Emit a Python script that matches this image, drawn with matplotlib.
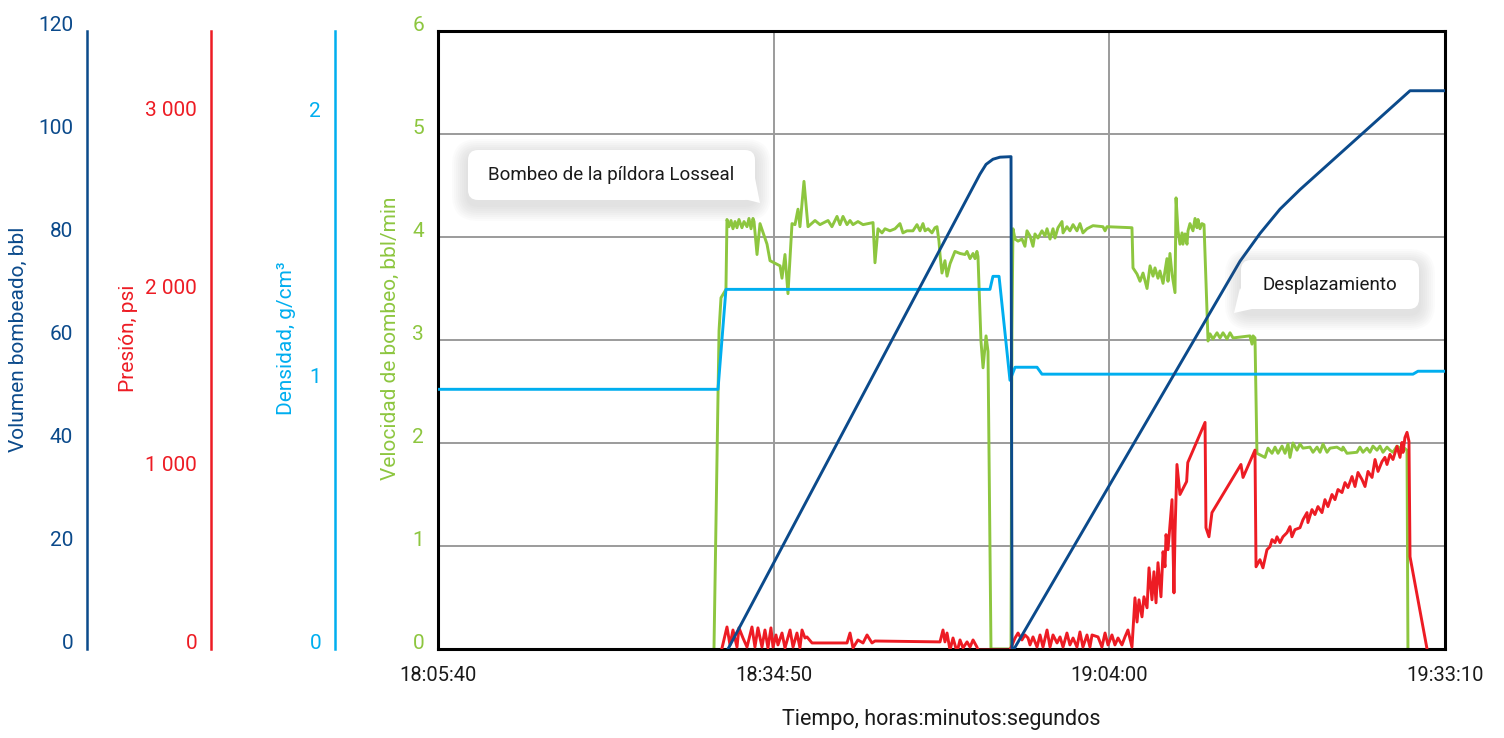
import matplotlib
matplotlib.use("Agg")
import matplotlib.pyplot as plt
from matplotlib.patches import FancyBboxPatch, Polygon

plt.rcParams["font.family"] = ["Liberation Sans Narrow", "Roboto", "DejaVu Sans"]

# time in minutes after 18:05:40
time_ticks = [0, 1750 / 60, 3500 / 60, 5250 / 60]
time_labels = ["18:05:40", "18:34:50", "19:04:00", "19:33:10"]

# pump rate, bbl/min
rate = [
    (23.98, 0.00), (24.42, 3.09), (24.59, 3.41), (25.02, 3.49), (25.11, 4.17),
    (25.28, 4.10), (25.46, 4.16), (25.63, 4.08), (25.81, 4.15), (25.98, 4.09), (26.15, 4.17),
    (26.41, 4.09), (26.59, 4.15), (26.85, 4.10), (27.02, 4.18), (27.20, 4.08), (27.37, 4.18),
    (27.46, 4.15), (27.72, 3.83), (27.98, 4.13), (28.59, 3.93), (28.85, 3.77), (29.72, 3.72),
    (29.89, 3.60), (30.15, 3.83), (30.41, 3.45), (30.76, 4.13), (31.02, 4.12), (31.28, 4.27),
    (31.45, 4.10), (31.80, 4.54), (32.15, 4.10), (32.76, 4.16), (33.19, 4.12), (33.89, 4.16),
    (34.23, 4.10), (34.67, 4.20), (34.93, 4.12), (35.19, 4.20), (35.54, 4.12), (35.80, 4.16),
    (36.06, 4.12), (36.49, 4.15), (36.93, 4.12), (37.36, 4.13), (37.80, 4.14), (37.97, 3.75),
    (38.23, 4.08), (38.58, 4.04), (38.84, 4.08), (39.27, 4.06), (39.71, 4.08), (40.14, 4.13),
    (40.40, 4.04), (40.75, 4.06), (41.27, 4.06), (41.62, 4.12), (41.88, 4.06), (42.14, 4.13),
    (42.32, 4.06), (42.58, 4.08), (42.92, 4.04), (43.18, 4.09), (43.36, 4.10), (43.53, 3.96),
    (43.62, 3.83), (43.79, 3.65), (44.05, 3.77), (44.23, 3.62), (44.49, 3.74), (44.92, 3.86),
    (45.36, 3.84), (45.79, 3.83), (45.97, 3.86), (46.23, 3.79), (46.49, 3.84), (46.66, 3.79),
    (46.83, 3.86), (46.92, 3.81), (47.18, 2.99), (47.36, 2.73), (47.62, 3.04), (47.79, 2.89),
    (48.05, 0.00), (49.79, 0.00), (49.87, 3.09), (49.96, 4.08), (50.14, 3.98), (50.40, 3.96),
    (50.74, 3.98), (51.00, 3.91), (51.18, 4.06), (51.44, 4.01), (51.70, 3.91), (51.87, 4.03),
    (52.13, 3.99), (52.48, 4.06), (52.74, 4.01), (52.92, 4.08), (53.18, 3.98), (53.44, 4.08),
    (53.61, 3.99), (53.87, 4.09), (54.22, 4.15), (54.31, 4.04), (54.65, 4.10), (54.91, 4.06),
    (55.18, 4.12), (55.52, 4.06), (55.78, 4.13), (56.04, 4.04), (56.39, 4.08), (56.91, 4.11),
    (57.78, 4.10), (57.96, 4.06), (58.13, 4.10), (60.30, 4.09), (60.39, 3.70), (60.74, 3.64),
    (61.00, 3.57), (61.26, 3.65), (61.61, 3.50), (61.87, 3.72), (62.13, 3.62), (62.30, 3.70),
    (62.56, 3.60), (62.73, 3.67), (63.00, 3.55), (63.34, 3.79), (63.43, 3.57), (63.60, 3.84),
    (63.78, 3.64), (64.04, 3.46), (64.13, 4.38), (64.30, 4.06), (64.47, 3.93), (64.65, 4.04),
    (64.73, 3.93), (64.91, 4.03), (65.08, 3.93), (65.17, 4.06), (65.34, 4.13), (65.60, 4.06),
    (65.78, 4.18), (65.95, 4.09), (66.04, 4.17), (66.21, 4.08), (66.38, 4.13), (66.56, 4.12),
    (66.91, 2.99), (67.08, 3.06), (67.34, 3.01), (67.69, 3.07), (67.95, 3.02), (68.21, 3.07),
    (68.56, 3.01), (68.82, 3.07), (69.08, 3.02), (70.55, 3.04), (70.73, 2.96), (70.82, 3.04),
    (70.99, 3.02), (71.16, 1.90), (71.86, 1.86), (72.12, 1.95), (72.47, 1.90), (72.73, 1.96),
    (72.99, 1.90), (73.34, 1.97), (73.60, 1.90), (73.86, 1.99), (74.03, 1.86), (74.29, 2.00),
    (74.64, 1.93), (74.90, 1.99), (75.16, 1.95), (75.77, 1.96), (76.03, 1.91), (76.38, 1.96),
    (76.64, 1.91), (76.90, 1.99), (77.25, 1.91), (77.51, 1.95), (78.11, 1.96), (78.55, 1.93),
    (78.64, 1.96), (78.98, 1.90), (79.85, 1.91), (80.11, 1.96), (80.37, 1.91), (80.72, 1.95),
    (80.98, 1.91), (81.24, 1.97), (81.59, 1.93), (81.85, 1.97), (82.11, 1.91), (82.46, 1.96),
    (82.72, 1.93), (82.98, 1.91), (83.33, 1.97), (83.59, 1.95), (83.85, 1.96), (84.20, 1.93),
    (84.28, 0.00),
]

# surface pressure, psi
pressure = [
    (24.68, 6), (25.11, 124), (25.37, 23), (25.63, 107), (25.98, 11), (26.15, 119),
    (26.50, 62), (26.85, 11), (27.28, 124), (27.54, 11), (27.80, 119), (28.15, 11),
    (28.41, 107), (28.67, 6), (28.93, 119), (29.11, 11), (29.37, 79), (29.54, 23),
    (29.89, 90), (30.15, 6), (30.59, 107), (30.85, 11), (31.19, 90), (31.45, 6),
    (31.63, 107), (31.89, 62), (32.06, 68), (32.50, 34), (35.54, 34), (35.80, 90),
    (36.06, 6), (36.49, 51), (36.93, 34), (37.28, 79), (37.71, 34), (37.97, 45),
    (43.62, 40), (43.88, 107), (44.05, 40), (44.23, 90), (44.49, -6), (44.75, 62),
    (45.10, -17), (45.36, 51), (45.62, 6), (45.97, 40), (46.23, 11), (46.49, 51),
    (46.83, 11), (46.92, -6), (49.70, -6), (50.14, 62), (50.40, 90), (50.74, 51),
    (51.00, 79), (51.27, 62), (51.44, 23), (51.70, 68), (52.05, 11), (52.31, 79),
    (52.57, 11), (52.92, 107), (53.18, 11), (53.44, 79), (53.79, 34), (54.05, 68),
    (54.31, 11), (54.65, 90), (54.91, 23), (55.18, 62), (55.52, 11), (55.78, 96),
    (56.04, 11), (56.39, 79), (56.65, 11), (56.83, 79), (57.35, 68), (57.69, 11),
    (57.96, 90), (58.22, 23), (58.56, 79), (58.82, 23), (59.09, 62), (59.43, 23),
    (59.69, 68), (59.95, 107), (60.30, 11), (60.56, 288), (60.74, 152), (60.91, 277),
    (61.17, 181), (61.34, 294), (61.61, 232), (61.78, 457), (62.04, 277), (62.21, 435),
    (62.39, 260), (62.56, 486), (62.82, 294), (63.00, 548), (63.17, 463), (63.26, 644),
    (63.43, 559), (63.78, 841), (63.95, 316), (64.04, 655), (64.21, 1039), (64.47, 870),
    (65.05, 943), (65.15, 1050), (66.65, 1276), (66.73, 683), (66.99, 632), (67.25, 768),
    (69.77, 1039), (69.95, 966), (70.99, 1120), (71.08, 463), (71.42, 503), (71.68, 457),
    (72.03, 559), (72.29, 576), (72.47, 616), (72.73, 599), (72.90, 632), (73.16, 599),
    (73.42, 632), (73.77, 655), (74.03, 689), (74.20, 632), (74.46, 672), (74.90, 683),
    (75.16, 728), (75.51, 768), (75.59, 712), (75.94, 785), (76.20, 757), (76.46, 802),
    (76.81, 768), (77.07, 841), (77.33, 802), (77.68, 870), (77.94, 841), (78.20, 898),
    (78.55, 881), (78.81, 937), (79.07, 909), (79.42, 971), (79.68, 915), (79.94, 994),
    (80.29, 954), (80.55, 915), (80.81, 1000), (81.16, 966), (81.42, 1067), (81.68, 1000),
    (82.03, 1056), (82.28, 1079), (82.46, 1039), (82.72, 1096), (82.98, 1067), (83.33, 1141),
    (83.59, 1079), (83.76, 1163), (83.85, 1107), (84.02, 1191), (84.20, 1220), (84.37, 1169),
    (84.46, 520), (85.94, 0),
]

# fluid density, g/cm3
density = [
    (0.00, 0.977), (24.33, 0.977), (25.02, 1.353), (47.96, 1.353), (48.22, 1.402),
    (48.75, 1.402), (49.70, 1.011), (50.14, 1.060), (52.05, 1.060), (52.48, 1.034),
    (84.72, 1.034), (85.15, 1.045), (87.50, 1.045),
]

# pumped volume, bbl
volume = [
    (25.20, 0.0), (47.09, 92.2), (47.62, 94.1), (48.22, 95.1), (48.83, 95.5),
    (49.79, 95.6), (49.88, 0.0), (50.05, 0.0), (69.69, 75.3), (71.43, 80.7), (73.16, 85.4),
    (74.90, 89.2), (84.46, 108.4), (87.50, 108.4),
]

c_vol = "#0b4a8b"
c_pres = "#ed1c24"
c_dens = "#00aeef"
c_rate = "#8dc63f"
grid_c = "#9b9b9b"
lw = 2.1
tick_fs = 15
title_fs = 15

fig = plt.figure(figsize=(15.04, 7.38), dpi=100)
ax = fig.add_axes([438 / 1504, 89 / 738, 1007 / 1504, 618 / 738])

# main (rate) axis with the framed grid
ax.set_xlim(0, 87.5)
ax.set_ylim(0, 6)
ax.set_yticks(range(7))
ax.set_xticks(time_ticks, time_labels)
ax.grid(True, color=grid_c, lw=1.4)
ax.set_axisbelow(True)
for s in ax.spines.values():
    s.set_linewidth(2.2)
    s.set_color("black")
ax.tick_params(axis="y", length=0, pad=10, labelsize=tick_fs, labelcolor=c_rate)
ax.tick_params(axis="x", length=0, pad=12, labelsize=14.5, labelcolor="#1a1a1a")
for t in ax.yaxis.get_major_ticks():
    t.label1.set_va("baseline")

t_r, v_r = zip(*rate)
ax.plot(t_r, v_r, color=c_rate, lw=lw)


def side_axis(offset_px, color, ymax, ticks, labels):
    tw = ax.twinx()
    tw.set_ylim(0, ymax)
    for s in ("top", "right", "bottom"):
        tw.spines[s].set_visible(False)
    sp = tw.spines["left"]
    sp.set_visible(True)
    sp.set_position(("outward", offset_px * 0.72))
    sp.set_color(color)
    sp.set_linewidth(1.8)
    tw.yaxis.set_ticks_position("left")
    tw.set_yticks(ticks, labels)
    tw.tick_params(axis="y", length=0, pad=10, labelsize=tick_fs, labelcolor=color)
    for t in tw.yaxis.get_major_ticks():
        t.label1.set_va("baseline")
    return tw


ax_dens = side_axis(103, c_dens, 2.325, [0, 1, 2], ["0", "1", "2"])
ax_pres = side_axis(227, c_pres, 3480, [0, 1000, 2000, 3000],
                    [f"{v:,}".replace(",", " ") for v in [0, 1000, 2000, 3000]])
ax_vol = side_axis(351, c_vol, 120, list(range(0, 121, 20)),
                   [str(v) for v in range(0, 121, 20)])

t_d, v_d = zip(*density)
ax_dens.plot(t_d, v_d, color=c_dens, lw=lw)
t_v, v_v = zip(*volume)
ax_vol.plot(t_v, v_v, color=c_vol, lw=lw)
t_p, v_p = zip(*pressure)
ax_pres.plot(t_p, v_p, color=c_pres, lw=lw)

# axis titles
fig.text(18 / 1504, 1 - 339 / 738, "Volumen bombeado, bbl", rotation=90,
         ha="center", va="center", fontsize=title_fs, color=c_vol)
fig.text(128 / 1504, 1 - 338 / 738, "Presión, psi", rotation=90,
         ha="center", va="center", fontsize=title_fs, color=c_pres)
fig.text(287 / 1504, 1 - 338 / 738, "Densidad, g/cm³", rotation=90,
         ha="center", va="center", fontsize=title_fs, color=c_dens)
fig.text(390 / 1504, 1 - 338 / 738, "Velocidad de bombeo, bbl/min", rotation=90,
         ha="center", va="center", fontsize=title_fs, color=c_rate)
fig.text(941.5 / 1504, 1 - 720 / 738, "Tiempo, horas:minutos:segundos",
         ha="center", va="center", fontsize=15.5, color="#1a1a1a")


def callout(x, y, w, h, text, tail):
    # x, y, w, h in inches from the lower-left corner of the figure
    tr = fig.dpi_scale_trans
    for k in range(8):
        pad = 0.02 * (k + 1)
        fig.add_artist(FancyBboxPatch(
            (x - pad, y - 0.05 - pad), w + 2 * pad, h + 2 * pad,
            boxstyle=f"round,pad=0,rounding_size={0.1 + pad}", transform=tr,
            fc="#6e6e6e", ec="none", alpha=0.025, zorder=4))
    fig.add_artist(FancyBboxPatch(
        (x, y), w, h, boxstyle="round,pad=0,rounding_size=0.1", transform=tr,
        fc="white", ec="none", zorder=5))
    fig.add_artist(Polygon(tail, closed=True, transform=tr, fc="white",
                           ec="none", zorder=5))
    fig.text(x + w / 2, y + h / 2, text, transform=tr, ha="center", va="center",
             fontsize=13.5, color="#1a1a1a", zorder=6)


callout(4.68, 5.38, 2.87, 0.50, "Bombeo de la píldora Losseal",
        [(7.40, 5.40), (7.60, 5.35), (7.55, 5.60)])
callout(12.41, 4.29, 1.78, 0.49, "Desplazamiento",
        [(12.52, 4.29), (12.34, 4.25), (12.40, 4.50)])

fig.savefig("out.png", dpi=100)
